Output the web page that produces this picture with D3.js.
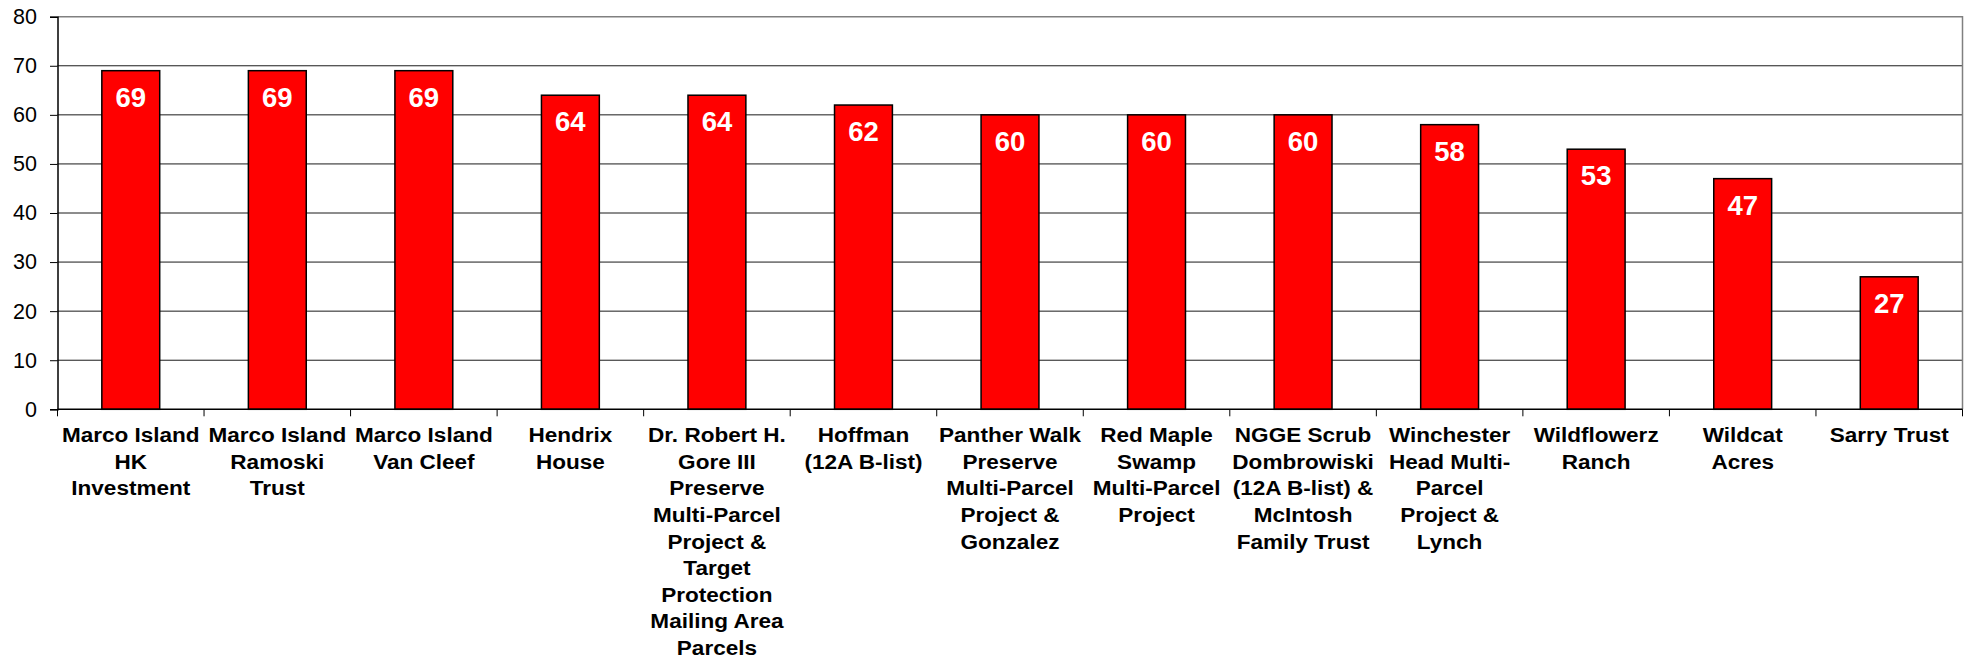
<!DOCTYPE html>
<html>
<head>
<meta charset="utf-8">
<script src="https://cdn.jsdelivr.net/npm/d3@7.9.0/dist/d3.min.js"></script>
<style>
  html, body { margin: 0; padding: 0; background: #fff; }
  svg { display: block; font-family: "Liberation Sans", Arial, sans-serif; }
</style>
</head>
<body>
<svg id="chart" width="1971" height="662"></svg>
<script>
// ========== Data ==========
const categories = [
  'Marco Island\nHK\nInvestment',
  'Marco Island\nRamoski\nTrust',
  'Marco Island\nVan Cleef',
  'Hendrix\nHouse',
  'Dr. Robert H.\nGore III\nPreserve\nMulti-Parcel\nProject &\nTarget\nProtection\nMailing Area\nParcels',
  'Hoffman\n(12A B-list)',
  'Panther Walk\nPreserve\nMulti-Parcel\nProject &\nGonzalez',
  'Red Maple\nSwamp\nMulti-Parcel\nProject',
  'NGGE Scrub\nDombrowiski\n(12A B-list) &\nMcIntosh\nFamily Trust',
  'Winchester\nHead Multi-\nParcel\nProject &\nLynch',
  'Wildflowerz\nRanch',
  'Wildcat\nAcres',
  'Sarry Trust'
];
const scores = [69, 69, 69, 64, 64, 62, 60, 60, 60, 58, 53, 47, 27];
const yTicks = [0, 10, 20, 30, 40, 50, 60, 70, 80];

// ========== Layout ==========
const plot = { left: 57.5, right: 1962.5, top: 16.7, bottom: 409.3 };
const svg = d3.select('#chart');

const x = d3.scaleBand()
  .domain(categories)
  .range([plot.left, plot.right])
  .padding(0);

const y = d3.scaleLinear()
  .domain([0, 80])
  .range([plot.bottom, plot.top]);

const barW = x.bandwidth() * 0.395;

// === Gridlines ===
svg.append('g')
  .selectAll('line')
  .data(yTicks.filter(d => d > 0 && d < 80))
  .join('line')
  .attr('x1', plot.left).attr('x2', plot.right)
  .attr('y1', d => y(d)).attr('y2', d => y(d))
  .attr('stroke', '#1a1a1a')
  .attr('stroke-width', 1);

// === Plot border (top + right, gray) ===
svg.append('path')
  .attr('d', `M${plot.left},${y(80)}H${plot.right}V${plot.bottom}`)
  .attr('fill', 'none')
  .attr('stroke', '#808080')
  .attr('stroke-width', 1.5);

// === Bars ===
svg.append('g')
  .selectAll('rect')
  .data(scores)
  .join('rect')
  .attr('x', (d, i) => x(categories[i]) + x.bandwidth() / 2 - barW / 2)
  .attr('y', d => y(d))
  .attr('width', barW)
  .attr('height', d => y(0) - y(d))
  .attr('fill', '#ff0000')
  .attr('stroke', '#000')
  .attr('stroke-width', 1.5);

// === Value labels ===
svg.append('g')
  .selectAll('text')
  .data(scores)
  .join('text')
  .attr('x', (d, i) => x(categories[i]) + x.bandwidth() / 2)
  .attr('y', d => y(d) + 36)
  .attr('text-anchor', 'middle')
  .attr('fill', '#fff')
  .attr('font-weight', 'bold')
  .attr('font-size', 27.5)
  .text(d => d);

// === Y axis ===
const yAxis = svg.append('g')
  .attr('transform', `translate(${plot.left},0)`)
  .call(d3.axisLeft(y).tickValues(yTicks).tickSize(7.5).tickPadding(13));
yAxis.select('.domain').attr('stroke', '#000').attr('stroke-width', 1.5);
yAxis.selectAll('.tick line').attr('stroke', '#000');
yAxis.selectAll('.tick text')
  .attr('font-size', 21.5)
  .attr('font-family', '"Liberation Sans", Arial, sans-serif')
  .attr('fill', '#000');

// === X axis line + boundary ticks ===
svg.append('line')
  .attr('x1', plot.left).attr('x2', plot.right)
  .attr('y1', y(0)).attr('y2', y(0))
  .attr('stroke', '#000').attr('stroke-width', 1.5);

const bounds = categories.map(c => x(c)).concat([x.range()[1]]);
svg.append('g')
  .selectAll('line')
  .data(bounds)
  .join('line')
  .attr('x1', d => d).attr('x2', d => d)
  .attr('y1', y(0)).attr('y2', y(0) + 7)
  .attr('stroke', '#000');

// === Category labels ===
const labels = svg.append('g')
  .selectAll('text')
  .data(categories)
  .join('text')
  .attr('transform', d => `translate(${x(d) + x.bandwidth() / 2},442.3) scale(1.1,1)`)
  .attr('text-anchor', 'middle')
  .attr('font-weight', 'bold')
  .attr('font-size', 20.5)
  .attr('fill', '#000');

labels.each(function (d) {
  d3.select(this).selectAll('tspan')
    .data(d.split('\n'))
    .join('tspan')
    .attr('x', 0)
    .attr('y', (line, i) => i * 26.6)
    .text(line => line);
});
</script>
</body>
</html>
